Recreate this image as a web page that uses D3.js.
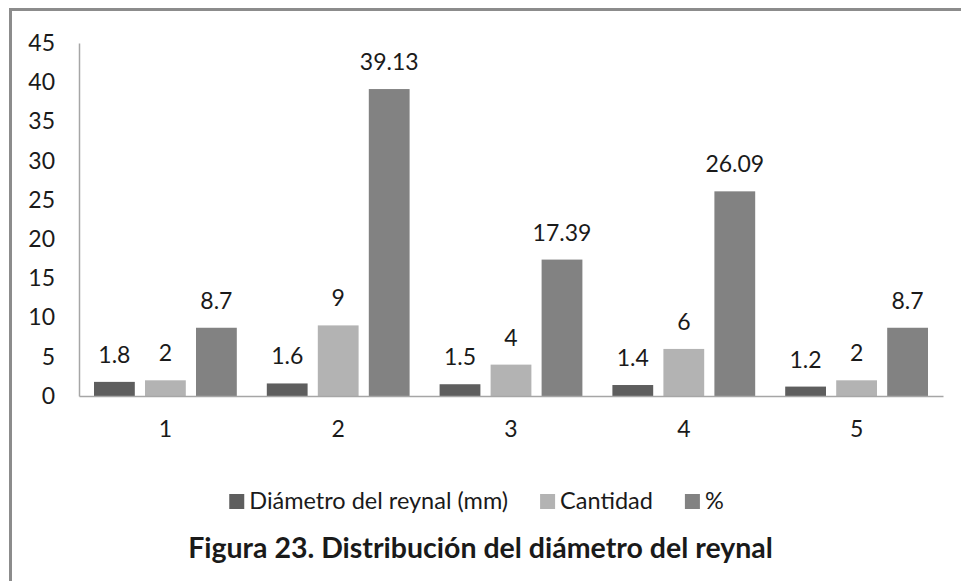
<!DOCTYPE html>
<html><head><meta charset="utf-8">
<script src="https://cdn.jsdelivr.net/npm/d3@7/dist/d3.min.js"></script>
<style>body{margin:0;background:#fff}svg{display:block}text{font-family:Lato,"Open Sans",sans-serif;fill:#1a1a1a}</style>
</head><body><svg id="c" width="961" height="581"></svg>
<script>
const categories = ["1","2","3","4","5"];
const seriesNames = ["Diámetro del reynal (mm)","Cantidad","%"];
const diametro = [1.8,1.6,1.5,1.4,1.2];
const cantidad = [2,9,4,6,2];
const porcentaje = [8.7,39.13,17.39,26.09,8.7];
const labelsDiam = ["1.8","1.6","1.5","1.4","1.2"];
const labelsCant = ["2","9","4","6","2"];
const labelsPct = ["8.7","39.13","17.39","26.09","8.7"];
const yTicks = [0,5,10,15,20,25,30,35,40,45];
const colors = ["#5e5e5e","#b3b3b3","#828282"];
const title = "Figura 23. Distribución del diámetro del reynal";

(function(){
const svg = d3.select("#c");
svg.append("path").attr("d","M10.5,581 V9.5 H961").attr("fill","none").attr("stroke","#8c8c8c").attr("stroke-width",3);

const pL=79, pR=943, pT=43, pB=396;
const fs = "23px";
const x = d3.scaleBand().domain(categories).range([pL,pR]).paddingInner(0).paddingOuter(0);
const inner = d3.scaleBand().domain([0,1,2]).range([15,x.bandwidth()-15]).paddingInner(0.2);
const y = d3.scaleLinear().domain([0,45]).range([pB,pT]);

const ya = svg.append("g").attr("transform",`translate(${pL},0)`).call(d3.axisLeft(y).tickValues(yTicks).tickSize(0).tickPadding(24));
ya.select(".domain").attr("stroke","#a6a6a6").attr("stroke-width",1.5);
ya.selectAll("text").style("font-size",fs).attr("fill","#1a1a1a").style("font-family","Lato");

const data = [diametro,cantidad,porcentaje];
const labels = [labelsDiam,labelsCant,labelsPct];
data.forEach((arr,si)=>{
  const g = svg.append("g");
  g.selectAll("rect").data(arr).join("rect")
    .attr("x",(d,i)=>x(categories[i])+inner(si))
    .attr("width",inner.bandwidth())
    .attr("y",d=>y(d)).attr("height",d=>y(0)-y(d))
    .attr("fill",colors[si]);
  g.selectAll("text").data(arr).join("text")
    .attr("x",(d,i)=>x(categories[i])+inner(si)+inner.bandwidth()/2)
    .attr("y",d=>y(d)-19)
    .attr("text-anchor","middle").style("font-size",fs)
    .text((d,i)=>labels[si][i]);
});

const xa = svg.append("g").attr("transform",`translate(0,${pB})`).call(d3.axisBottom(x).tickSize(0).tickPadding(25));
xa.select(".domain").attr("stroke","#a6a6a6").attr("stroke-width",1.5);
xa.selectAll("text").style("font-size",fs).attr("fill","#1a1a1a").style("font-family","Lato");

const lg = svg.append("g");
let cx = 0;
seriesNames.forEach((n,i)=>{
  const it = lg.append("g").attr("transform",`translate(${cx},0)`);
  it.append("rect").attr("x",0).attr("y",-15).attr("width",15).attr("height",15).attr("fill",colors[i]);
  const t = it.append("text").attr("x",20).attr("y",0).style("font-size","23.5px").text(n);
  const w = 20 + t.node().getComputedTextLength();
  cx += w + 32;
});
const totalW = cx - 32;
lg.attr("transform",`translate(${476.5-totalW/2},509)`);

svg.append("text").attr("x",480.5).attr("y",558).attr("text-anchor","middle")
  .style("font-size","28.5px").style("font-weight","bold").attr("fill","#000").text(title);
})();
</script></body></html>
